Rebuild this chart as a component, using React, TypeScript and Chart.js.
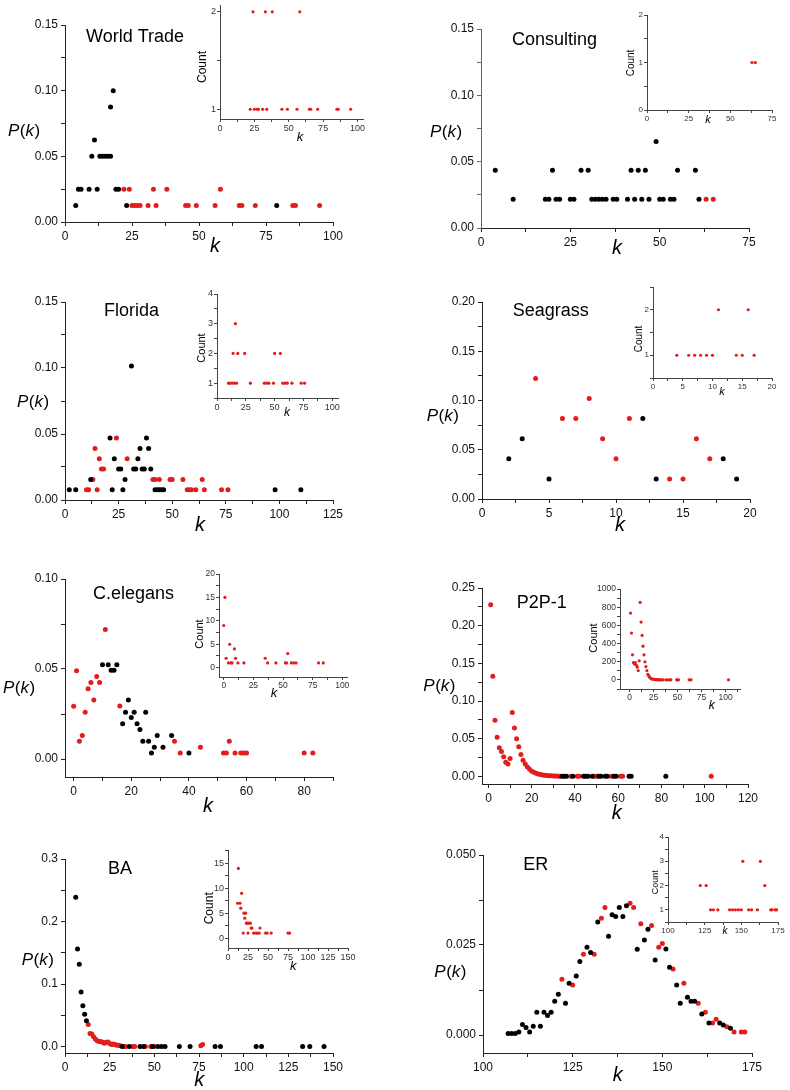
import React, { useEffect, useRef } from "react";
import { Chart, registerables } from "chart.js";

Chart.register(...registerables);

// ---------------- DATA ----------------
// World Trade
const wtBlackK = [4, 5, 6, 9, 12, 19, 20, 23, 79, 10, 13, 14, 15, 16, 17, 11, 17, 18];
const wtBlackP = [0.0125, 0.025, 0.025, 0.025, 0.025, 0.025, 0.025, 0.0125, 0.0125, 0.05, 0.05, 0.05, 0.05, 0.05, 0.05, 0.0625, 0.0875, 0.1];
const wtRedK = [22, 24, 33, 38, 58, 25, 26, 27, 28, 31, 34, 45, 46, 49, 56, 65, 66, 71, 85, 86, 95];
const wtRedP = [0.025, 0.025, 0.025, 0.025, 0.025, 0.0125, 0.0125, 0.0125, 0.0125, 0.0125, 0.0125, 0.0125, 0.0125, 0.0125, 0.0125, 0.0125, 0.0125, 0.0125, 0.0125, 0.0125, 0.0125];
const wtInsetK = [24, 33, 38, 58, 22, 25, 27, 28, 31, 34, 45, 49, 56, 65, 66, 71, 85, 86, 95];
const wtInsetC = [2, 2, 2, 2, 1, 1, 1, 1, 1, 1, 1, 1, 1, 1, 1, 1, 1, 1, 1];

// Consulting
const csBlackK = [4, 20, 28, 30, 42, 44, 46, 55, 60, 49, 9, 18, 19, 21, 22, 25, 26, 31, 32, 33, 34, 35, 37, 38, 41, 43, 45, 47, 50, 51, 53, 54, 61];
const csBlackP = [0.0435, 0.0435, 0.0435, 0.0435, 0.0435, 0.0435, 0.0435, 0.0435, 0.0435, 0.0652, 0.0217, 0.0217, 0.0217, 0.0217, 0.0217, 0.0217, 0.0217, 0.0217, 0.0217, 0.0217, 0.0217, 0.0217, 0.0217, 0.0217, 0.0217, 0.0217, 0.0217, 0.0217, 0.0217, 0.0217, 0.0217, 0.0217, 0.0217];
const csRedK = [63, 65];
const csRedP = [0.0217, 0.0217];
const csInsetK = [63, 65];
const csInsetC = [1, 1];

// Florida
const flBlackK = [31, 21, 38, 35, 39, 23, 34, 25, 26, 32, 33, 36, 37, 40, 12, 28, 2, 5, 22, 27, 42, 43, 44, 45, 46, 98, 110];
const flBlackP = [0.1016, 0.0469, 0.0469, 0.0391, 0.0391, 0.0313, 0.0313, 0.0234, 0.0234, 0.0234, 0.0234, 0.0234, 0.0234, 0.0234, 0.0156, 0.0156, 0.0078, 0.0078, 0.0078, 0.0078, 0.0078, 0.0078, 0.0078, 0.0078, 0.0078, 0.0078, 0.0078];
const flRedK = [24, 14, 16, 29, 17, 18, 13, 41, 42, 44, 49, 50, 55, 64, 10, 11, 15, 57, 58, 59, 61, 65, 73, 76];
const flRedP = [0.0469, 0.0391, 0.0313, 0.0313, 0.0234, 0.0234, 0.0156, 0.0156, 0.0156, 0.0156, 0.0156, 0.0156, 0.0156, 0.0156, 0.0078, 0.0078, 0.0078, 0.0078, 0.0078, 0.0078, 0.0078, 0.0078, 0.0078, 0.0078];
const flInsetK = [16, 14, 18, 24, 50, 55, 10, 11, 13, 15, 17, 29, 41, 43, 45, 49, 57, 59, 61, 65, 73, 76];
const flInsetC = [3, 2, 2, 2, 2, 2, 1, 1, 1, 1, 1, 1, 1, 1, 1, 1, 1, 1, 1, 1, 1, 1];

// Seagrass
const sgBlackK = [2, 3, 5, 12, 13, 18, 19];
const sgBlackP = [0.0408, 0.0612, 0.0204, 0.0816, 0.0204, 0.0408, 0.0204];
const sgRedK = [4, 6, 7, 8, 9, 10, 11, 14, 15, 16, 17];
const sgRedP = [0.1224, 0.0816, 0.0816, 0.102, 0.0612, 0.0408, 0.0816, 0.0204, 0.0204, 0.0612, 0.0408];
const sgInsetK = [11, 16, 4, 6, 7, 8, 9, 10, 14, 15, 17];
const sgInsetC = [2, 2, 1, 1, 1, 1, 1, 1, 1, 1, 1];

// C.elegans
const ceRedK = [0, 1, 2, 3, 4, 5, 6, 7, 8, 9, 11, 16, 35, 37, 44, 52, 53, 54, 56, 58, 59, 60, 80, 83];
const ceRedP = [0.0293, 0.049, 0.0099, 0.013, 0.026, 0.039, 0.0425, 0.0328, 0.0459, 0.0425, 0.072, 0.0295, 0.0099, 0.0034, 0.0065, 0.0034, 0.0034, 0.0099, 0.0034, 0.0034, 0.0034, 0.0034, 0.0034, 0.0034];
const ceBlackK = [10, 12, 13, 14, 15, 17, 18, 19, 20, 21, 22, 23, 24, 25, 26, 27, 28, 29, 31, 34, 40];
const ceBlackP = [0.0524, 0.0524, 0.0493, 0.0493, 0.0524, 0.0196, 0.026, 0.0328, 0.023, 0.026, 0.0196, 0.0164, 0.0099, 0.026, 0.0099, 0.0034, 0.0065, 0.013, 0.0065, 0.013, 0.0034];
const ceInsetK = [0, 1, 2, 4, 5, 6, 7, 9, 10, 12, 17, 35, 37, 44, 52, 53, 54, 57, 59, 61, 80, 84];
const ceInsetC = [9, 15, 2, 1, 5, 1, 1, 4, 2, 1, 1, 2, 1, 1, 1, 1, 3, 1, 1, 1, 1, 1];

// P2P-1
const p2RedK = [1, 2, 3, 4, 5, 6, 7, 8, 9, 10, 11, 12, 13, 14, 15, 16, 17, 18, 19, 20, 21, 22, 23, 24, 25, 26, 27, 28, 29, 30, 31, 32, 33, 38, 41, 42, 49, 50, 57, 61, 62, 103];
const p2RedP = [0.2277, 0.1328, 0.0746, 0.052, 0.038, 0.033, 0.026, 0.019, 0.0165, 0.0237, 0.0847, 0.0644, 0.0499, 0.0395, 0.029, 0.0215, 0.0165, 0.0125, 0.0095, 0.007, 0.0055, 0.0042, 0.0033, 0.0026, 0.002, 0.0016, 0.0013, 0.001, 0.0008, 0.0006, 0.0005, 0.0004, 0.0003, 0.0003, 0.0003, 0.0003, 0.0003, 0.0003, 0.0003, 0.0003, 0.0003, 0.0003];
const p2BlackK = [34, 35, 36, 39, 44, 45, 46, 48, 51, 52, 54, 55, 58, 59, 65, 66, 82];
const p2BlackP = [0.0003, 0.0003, 0.0003, 0.0003, 0.0003, 0.0003, 0.0003, 0.0003, 0.0003, 0.0003, 0.0003, 0.0003, 0.0003, 0.0003, 0.0003, 0.0003, 0.0003];
const p2InsetK = [1, 2, 3, 4, 5, 6, 7, 8, 9, 10, 11, 12, 13, 14, 15, 16, 17, 18, 19, 20, 21, 22, 23, 24, 25, 26, 27, 28, 29, 30, 31, 32, 33, 35, 38, 40, 42, 43, 49, 50, 51, 62, 64, 103];
const p2InsetC = [735, 515, 276, 191, 176, 191, 162, 140, 103, 210, 853, 636, 489, 371, 276, 199, 147, 103, 62, 44, 29, 18, 12, 9, 7, 5, 4, 3, 2, 2, 1, 1, 1, 1, 1, 1, 1, 1, 1, 1, 1, 1, 1, 1];

// BA
const baBlackK = [6, 7, 8, 9, 10, 11, 12, 32, 36, 42, 44, 49, 52, 54, 56, 64, 70, 84, 87, 107, 110, 133, 137, 145];
const baBlackP = [0.239, 0.156, 0.132, 0.0874, 0.0655, 0.052, 0.0415, 0.0005, 0.0005, 0.0005, 0.0005, 0.0005, 0.0005, 0.0005, 0.0005, 0.0005, 0.0005, 0.0005, 0.0005, 0.0005, 0.0005, 0.0005, 0.0005, 0.0005];
const baRedK = [13, 14, 15, 16, 17, 18, 19, 20, 21, 22, 23, 24, 25, 26, 27, 28, 29, 30, 31, 33, 34, 38, 39, 45, 48, 50, 76, 77];
const baRedP = [0.0357, 0.0213, 0.0205, 0.016, 0.0125, 0.0096, 0.0085, 0.0085, 0.007, 0.0055, 0.007, 0.0075, 0.005, 0.0035, 0.0045, 0.0035, 0.0025, 0.0025, 0.0015, 0.0005, 0.0005, 0.0005, 0.0005, 0.0005, 0.0005, 0.0005, 0.0016, 0.0035];
const baInsetK = [13, 12, 15, 16, 17, 19, 20, 22, 21, 23, 24, 26, 28, 25, 29, 30, 32, 35, 37, 39, 40, 47, 49, 54, 75, 77];
const baInsetC = [14, 7, 7, 6, 9, 1, 5, 5, 4, 3, 3, 3, 3, 1, 2, 2, 1, 1, 1, 1, 2, 1, 1, 1, 1, 1];

// ER
const erBlackK = [107, 108, 109, 110, 111, 112, 113, 114, 115, 116, 117, 118, 119, 120, 121, 123, 124, 126, 127, 129, 130, 132, 135, 136, 137, 138, 139, 140, 143, 145, 146, 148, 151, 152, 154, 155, 157, 158, 159, 161, 163, 166, 167, 169];
const erBlackP = [0.0004, 0.0004, 0.0004, 0.0008, 0.0029, 0.0021, 0.0008, 0.0024, 0.0063, 0.0024, 0.0063, 0.0054, 0.0063, 0.0094, 0.0113, 0.0088, 0.0144, 0.0164, 0.0204, 0.0244, 0.0229, 0.0314, 0.0274, 0.0334, 0.0329, 0.0354, 0.0329, 0.0359, 0.0238, 0.0264, 0.0294, 0.0208, 0.0239, 0.0188, 0.0139, 0.0088, 0.0105, 0.0094, 0.0094, 0.0058, 0.0033, 0.0033, 0.0028, 0.0019];
const erRedK = [122, 125, 128, 131, 133, 134, 141, 142, 144, 147, 149, 150, 153, 156, 160, 162, 164, 165, 168, 170, 172, 173];
const erRedP = [0.0155, 0.0139, 0.0224, 0.0224, 0.0324, 0.0354, 0.0366, 0.0354, 0.0309, 0.0304, 0.0244, 0.0254, 0.0183, 0.0144, 0.0088, 0.0063, 0.0033, 0.0044, 0.0023, 0.0008, 0.0008, 0.0008];
const erInsetK = [122, 126, 166, 151, 163, 129, 131, 134, 142, 144, 146, 148, 150, 155, 157, 161, 170, 171, 173, 174];
const erInsetC = [2, 2, 2, 3, 3, 1, 1, 1, 1, 1, 1, 1, 1, 1, 1, 1, 1, 1, 1, 1];

// ---------------- STYLE / LAYOUT ----------------
const FONT = '"Liberation Sans", Arial, Helvetica, sans-serif';
const RED = "#e31c1c";
const BLACK = "#000000";

type Pt = { x: number; y: number };
const zip = (k: number[], v: number[]): Pt[] => k.map((x, i) => ({ x, y: v[i] }));

interface Axis { min: number; max: number; major: number; minor: number; digits: number }
interface Txt { kind: "title" | "pk" | "k" | "count"; text?: string; x: number; y: number; size: number }
interface Spec {
  plot: [number, number, number, number];
  margin: [number, number, number, number];
  x: Axis;
  y: Axis;
  sets: { data: Pt[]; color: string }[];
  radius: number;
  tickFont: number;
  tickPad: number;
  tickLen: number;
  axisColor: string;
  yAxisColor?: string;
  tickColor: string;
  texts: Txt[];
}

const MAIN_M: [number, number, number, number] = [70, 12, 20, 45];
const INSET_M: [number, number, number, number] = [36, 8, 14, 30];

function mainSpec(
  plot: [number, number, number, number], x: Axis, y: Axis, black: Pt[], red: Pt[],
  title: string, tp: [number, number], pk: [number, number], kp: [number, number], yAxisColor?: string
): Spec {
  return {
    plot, margin: MAIN_M, x, y,
    sets: [{ data: black, color: BLACK }, { data: red, color: RED }],
    radius: 2.5, tickFont: 12, tickPad: 3, tickLen: 4, axisColor: "#222", yAxisColor, tickColor: "#111",
    texts: [
      { kind: "title", text: title, x: tp[0], y: tp[1], size: 18 },
      { kind: "pk", x: pk[0], y: pk[1], size: 17 },
      { kind: "k", x: kp[0], y: kp[1], size: 20 },
    ],
  };
}

function insetSpec(
  plot: [number, number, number, number], x: Axis, y: Axis, pts: Pt[],
  cnt: [number, number, number], kp: [number, number, number], tickFont: number
): Spec {
  return {
    plot, margin: INSET_M, x, y,
    sets: [{ data: pts, color: RED }],
    radius: 1.6, tickFont, tickPad: 1, tickLen: 3, axisColor: "#444", tickColor: "#333",
    texts: [
      { kind: "count", text: "Count", x: cnt[0], y: cnt[1], size: cnt[2] },
      { kind: "k", x: kp[0], y: kp[1], size: kp[2] },
    ],
  };
}

const ax = (min: number, max: number, major: number, minor: number, digits = 0): Axis => ({ min, max, major, minor, digits });

const SPECS: Spec[] = [
  // World Trade
  mainSpec([65, 25, 333, 221.5], ax(0, 100, 25, 12.5), ax(0, 0.15, 0.05, 0.025, 2), zip(wtBlackK, wtBlackP), zip(wtRedK, wtRedP),
    "World Trade", [86, 37], [8, 131], [215, 246]),
  // Consulting
  mainSpec([481, 29, 749, 227.5], ax(0, 75, 25, 12.5), ax(0, 0.15, 0.05, 0.025, 2), zip(csBlackK, csBlackP), zip(csRedK, csRedP),
    "Consulting", [512, 40], [430, 132], [617, 248], "#666"),
  // Florida
  mainSpec([65, 301.7, 333, 500], ax(0, 125, 25, 12.5), ax(0, 0.15, 0.05, 0.025, 2), zip(flBlackK, flBlackP), zip(flRedK, flRedP),
    "Florida", [104, 311], [17, 402], [200, 525]),
  // Seagrass
  mainSpec([482, 301.7, 750, 498.5], ax(0, 20, 5, 2.5), ax(0, 0.2, 0.05, 0.025, 2), zip(sgBlackK, sgBlackP), zip(sgRedK, sgRedP),
    "Seagrass", [512.7, 310.7], [426.7, 416], [620, 525]),
  // C.elegans
  mainSpec([65, 579, 333, 776.7], ax(-3, 90, 20, 10), ax(-0.01, 0.1, 0.05, 0.025, 2), zip(ceBlackK, ceBlackP), zip(ceRedK, ceRedP),
    "C.elegans", [93, 594], [3, 688], [208, 806.7]),
  // P2P-1
  mainSpec([482, 587.7, 748.3, 784.3], ax(-3, 120, 20, 10), ax(-0.01, 0.25, 0.05, 0.025, 2), zip(p2BlackK, p2BlackP), zip(p2RedK, p2RedP),
    "P2P-1", [516.7, 603.3], [423.3, 686], [616.7, 813]),
  // BA
  mainSpec([65, 859, 333.3, 1053], ax(0, 150, 25, 12.5), ax(-0.01, 0.3, 0.1, 0.05, 1), zip(baBlackK, baBlackP), zip(baRedK, baRedP),
    "BA", [108, 869.3], [21.7, 960], [199.3, 1080]),
  // ER
  mainSpec([482.7, 855, 751.7, 1053], ax(100, 175, 25, 12.5), ax(-0.005, 0.05, 0.025, 0.0125, 3), zip(erBlackK, erBlackP), zip(erRedK, erRedP),
    "ER", [523.3, 865], [434.3, 972.7], [617.7, 1075]),

  // insets
  insetSpec([219.5, 5, 363, 118.5], ax(0, 104, 25, 12.5), ax(0.9, 2.07, 1, 0.5), zip(wtInsetK, wtInsetC), [203, 67, 12], [300, 137, 13], 9),
  insetSpec([647, 15, 772, 110], ax(0, 75, 25, 12.5), ax(0, 2, 1, 0.5), zip(csInsetK, csInsetC), [631, 63, 10], [708, 120, 11], 8),
  insetSpec([217, 294, 338, 397.7], ax(0, 105, 25, 12.5), ax(0.5, 4, 1, 0.5), zip(flInsetK, flInsetC), [202, 348, 11], [287, 413, 12], 9),
  insetSpec([653.3, 286.7, 772.3, 378.3], ax(0, 20, 5, 2.5), ax(0.5, 2.5, 1, 0.5), zip(sgInsetK, sgInsetC), [639, 339, 10], [722, 392, 11], 8),
  insetSpec([219.3, 574, 346.7, 676.7], ax(-4, 104, 25, 12.5), ax(-2, 20, 5, 2.5), zip(ceInsetK, ceInsetC), [200, 634, 11], [274, 693, 13], 8.5),
  insetSpec([620.4, 589.3, 740, 689.3], ax(-10, 115, 25, 12.5), ax(-100, 1000, 200, 100), zip(p2InsetK, p2InsetC), [594, 638, 11], [711.7, 706, 12], 8.5),
  insetSpec([228.3, 849.8, 348.3, 948.3], ax(0, 150, 25, 12.5), ax(-2, 17.7, 5, 2.5), zip(baInsetK, baInsetC), [210, 908.3, 12], [293.3, 966.7, 13], 9),
  insetSpec([668.3, 837.3, 778.3, 922.3], ax(100, 175, 25, 12.5), ax(0.5, 4, 1, 0.5), zip(erInsetK, erInsetC), [655.7, 882.3, 9], [725, 931.7, 10], 8),
];

// ---------------- RENDER ----------------
function geometry(s: Spec) {
  const l = Math.round(s.plot[0]);
  const t = Math.round(s.plot[1]);
  const r = Math.round(s.plot[2]);
  const b = Math.round(s.plot[3]);
  return {
    left: l - s.margin[0],
    top: t - s.margin[1],
    width: r - l + s.margin[0] + s.margin[2],
    height: b - t + s.margin[1] + s.margin[3],
  };
}

function tickList(a: Axis) {
  const out: { value: number }[] = [];
  const s = Math.ceil(a.min / a.minor - 1e-9);
  const e = Math.floor(a.max / a.minor + 1e-9);
  for (let i = s; i <= e; i++) out.push({ value: +(i * a.minor).toFixed(6) });
  return out;
}
const isMajor = (v: number, a: Axis) => Math.abs(v / a.major - Math.round(v / a.major)) < 1e-6;

function drawPk(ctx: CanvasRenderingContext2D, x: number, y: number, size: number) {
  const parts: [string, boolean][] = [["P", true], ["(", false], ["k", true], [")", false]];
  let cx = x;
  for (const [str, it] of parts) {
    ctx.font = `${it ? "italic " : ""}${size}px ${FONT}`;
    ctx.fillText(str, cx, y);
    cx += ctx.measureText(str).width + (it ? 0.5 : 0);
  }
}

function buildConfig(s: Spec): any {
  const g = geometry(s);
  const scaleOpts = (a: Axis, horizontal: boolean, color: string) => ({
    type: "linear",
    position: horizontal ? "bottom" : "left",
    min: a.min,
    max: a.max,
    afterBuildTicks: (sc: any) => {
      sc.ticks = tickList(a);
    },
    afterFit: (sc: any) => {
      if (horizontal) sc.height = s.margin[3];
      else sc.width = s.margin[0];
    },
    ticks: {
      autoSkip: false,
      maxRotation: 0,
      minRotation: 0,
      padding: s.tickPad,
      color: s.tickColor,
      font: { family: FONT, size: s.tickFont },
      callback: (v: number) => (isMajor(v, a) ? (a.digits ? v.toFixed(a.digits) : String(Math.round(v))) : ""),
    },
    grid: { display: true, drawOnChartArea: false, drawTicks: true, tickLength: s.tickLen, color, lineWidth: 1 },
    border: { display: true, color, width: 1 },
  });

  const textPlugin = {
    id: "panelText",
    afterDraw(chart: any) {
      const ctx: CanvasRenderingContext2D = chart.ctx;
      ctx.save();
      ctx.fillStyle = "#000";
      ctx.textBaseline = "middle";
      for (const t of s.texts) {
        const x = t.x - g.left;
        const y = t.y - g.top;
        if (t.kind === "title") {
          ctx.font = `${t.size}px ${FONT}`;
          ctx.textAlign = "left";
          ctx.fillText(t.text || "", x, y);
        } else if (t.kind === "pk") {
          ctx.textAlign = "left";
          drawPk(ctx, x, y, t.size);
        } else if (t.kind === "k") {
          ctx.font = `italic ${t.size}px ${FONT}`;
          ctx.textAlign = "center";
          ctx.fillText("k", x, y);
        } else {
          ctx.font = `${t.size}px ${FONT}`;
          ctx.textAlign = "center";
          ctx.translate(x, y);
          ctx.rotate(-Math.PI / 2);
          ctx.fillText(t.text || "", 0, 0);
          ctx.rotate(Math.PI / 2);
          ctx.translate(-x, -y);
        }
      }
      ctx.restore();
    },
  };

  return {
    type: "scatter",
    data: {
      datasets: s.sets.map((d) => ({
        data: d.data,
        pointRadius: s.radius,
        pointHoverRadius: s.radius,
        pointBackgroundColor: d.color,
        pointBorderColor: d.color,
        pointBorderWidth: 0,
        showLine: false,
      })),
    },
    options: {
      responsive: false,
      maintainAspectRatio: false,
      animation: false,
      events: [],
      devicePixelRatio: 1,
      layout: { padding: { left: 0, top: s.margin[1], right: s.margin[2], bottom: 0 } },
      plugins: { legend: { display: false }, tooltip: { enabled: false }, title: { display: false } },
      scales: {
        x: scaleOpts(s.x, true, s.axisColor),
        y: scaleOpts(s.y, false, s.yAxisColor || s.axisColor),
      },
    },
    plugins: [textPlugin],
  };
}

function ChartBox({ spec }: { spec: Spec }) {
  const ref = useRef<HTMLCanvasElement>(null);
  const g = geometry(spec);
  useEffect(() => {
    if (!ref.current) return;
    const chart = new Chart(ref.current, buildConfig(spec));
    return () => chart.destroy();
  }, []);
  return (
    <canvas
      ref={ref}
      width={g.width}
      height={g.height}
      style={{ position: "absolute", left: g.left, top: g.top, width: g.width, height: g.height }}
    />
  );
}

export default function App() {
  return (
    <div style={{ position: "absolute", left: 0, top: 0, width: 790, height: 1090, background: "#fff", overflow: "hidden" }}>
      {SPECS.map((s, i) => (
        <ChartBox key={i} spec={s} />
      ))}
    </div>
  );
}
